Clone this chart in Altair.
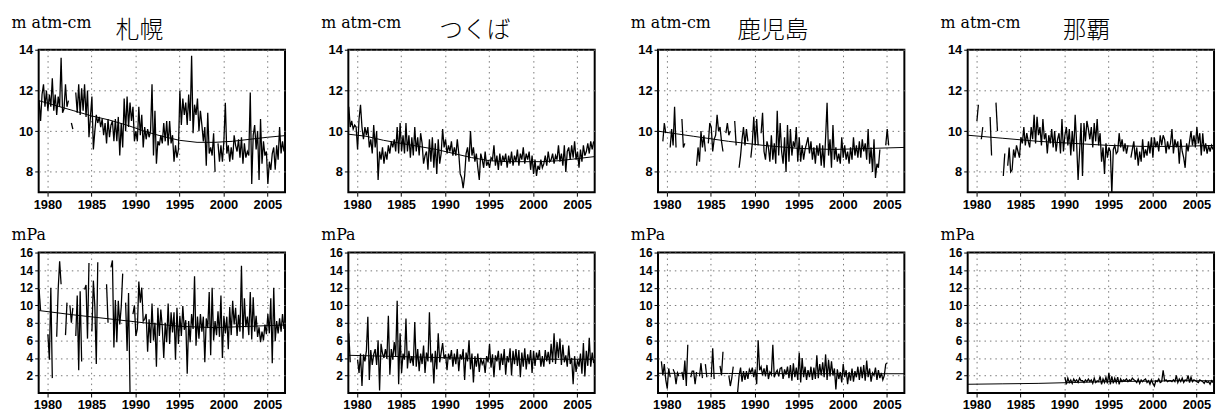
import altair as alt
import pandas as pd

# ---------------- data (2-monthly readings, 1979-2006) ----------------
START = 1979.05
STEP = 1 / 6
N = None

stations = ["札幌", "つくば", "鹿児島", "那覇"]
title_dx = [106, 120, 108, 124]

sapporo_col = [
    11.5, 10.5, 11.8, 12.3, 11.2, 12.0,
    11.0, 11.8, 11.2, 12.6, 11.0, 11.8,
    10.8, 11.7, 11.2, 13.6, 10.9, 11.1,
    12.3, 11.2, 11.5, N, 10.4, 10.1,
    N, 11.9, 10.9, 12.3, 10.8, 12.1,
    11.0, 12.3, 10.7, 12.0, 9.7, 10.7,
    11.7, 9.1, 10.0, 10.8, 10.4, 10.7,
    10.2, 10.6, 9.8, 10.4, 9.4, 10.6,
    9.7, 10.3, 10.5, 9.5, 10.6, 9.5,
    10.7, 8.8, 10.4, 9.2, 11.6, 10.0,
    11.7, 10.2, 11.4, 10.5, 11.2, 9.5,
    10.0, 9.5, 11.2, 9.8, 10.8, 9.2,
    10.2, 9.6, 10.1, 9.7, 10.0, 12.3,
    8.8, 11.0, 8.4, 9.5, 9.3, 9.8,
    9.4, 10.4, 9.5, 10.5, 9.3, 10.5,
    9.4, 9.8, 8.5, 9.3, 8.7, 9.1,
    12.0, 10.3, 11.6, 10.8, 11.4, 10.3,
    11.8, 10.5, 13.7, 9.9, 11.3, 10.8,
    11.6, 10.0, 11.0, 10.3, 9.5, 10.2,
    8.3, 10.9, 8.9, 9.2, 8.8, 9.9,
    8.0, N, 9.4, 8.5, 9.3, 8.5,
    9.5, 11.4, 8.9, 9.3, 8.5, 9.2,
    8.6, 9.8, 9.3, 9.0, 9.6, 8.7,
    9.7, 8.4, 9.4, 8.7, 9.0, 8.8,
    11.9, 7.4, 9.8, 10.3, 9.1, 10.0,
    7.6, 10.6, 8.4, 9.5, 8.8, 9.0,
    7.4, 8.5, 8.1, 8.9, 9.2, 8.1,
    9.3, 8.6, 10.2, 8.9, 9.5, 9.0,
]

tsukuba_col = [
    11.2, 10.2, 10.5, 10.1, 10.3, 10.2,
    9.1, 10.6, 11.3, 10.2, 9.6, 10.2,
    9.8, 10.2, 9.2, 9.6, 8.9, 10.3,
    9.2, 10.0, 7.6, 9.0, 8.6, 9.2,
    8.4, 9.0, 8.6, 9.3, 8.9, 9.5,
    9.2, 9.6, 9.0, 10.2, 8.9, 10.4,
    9.0, 9.8, 8.9, 10.4, 9.0, 9.8,
    8.7, 9.7, 8.8, 10.2, 9.0, 9.7,
    8.8, 9.9, 9.4, 8.4, 8.8, 9.0,
    8.1, 9.6, 8.5, 9.7, 8.2, 9.4,
    7.9, 9.6, 8.4, 8.9, 10.1, 9.2,
    9.6, 8.9, 9.3, 9.0, 9.5, 8.8,
    9.2, 8.8, 9.6, 8.9, 7.9, 7.7,
    7.2, 7.8, 8.9, 9.2, 8.5, 10.0,
    8.8, 9.2, 8.5, 8.9, 8.2, 7.6,
    8.9, 8.6, 8.2, 9.0, 8.3, 8.5,
    8.2, 8.7, 8.6, 9.3, 8.3, 8.8,
    8.1, 8.9, 8.3, 8.8, 8.5, 8.9,
    8.2, 8.8, 8.4, 9.0, 8.3, 8.8,
    8.5, 9.1, 8.3, 8.9, 8.6, 9.2,
    8.4, 8.9, 8.6, 9.0, 8.1, 8.8,
    7.9, 8.6, 7.8, 8.3, 8.1, 8.6,
    8.2, 8.4, 8.8, 8.3, 9.0, 8.5,
    8.6, 8.9, 8.4, 8.8, 8.6, 9.3,
    8.5, 8.9, 8.3, 9.3, 8.0, 9.0,
    9.2, 8.6, 9.3, 8.7, 9.5, 8.6,
    9.0, 8.2, 9.1, 8.5, 9.3, 8.8,
    9.0, 9.4, 8.9, 9.5, 9.1, 9.5,
]

kagoshima_col = [
    N, N, N, 9.5, 10.4, 9.9,
    N, N, 9.2, 10.1, 9.3, 11.2,
    9.2, N, N, N, 10.6, 9.2,
    9.4, N, N, N, N, N,
    N, N, 8.3, 9.2, 8.5, 10.0,
    9.2, 9.8, 9.0, N, 9.4, 10.4,
    10.2, 9.0, 9.6, 9.8, 10.8, 10.0,
    10.2, 9.5, 9.0, N, 9.9, 10.4,
    9.8, 10.0, N, N, 10.5, 9.3,
    N, 8.2, 8.8, 9.6, 10.2, 9.3,
    10.1, 9.5, N, 8.7, 9.4, 10.7,
    9.3, 10.6, 9.3, N, 9.9, 10.9,
    9.0, 8.6, 9.5, 9.2, 8.5, 9.8,
    8.6, 9.4, 8.4, 11.0, 8.8, 10.4,
    9.0, 8.4, 9.7, 8.0, 10.3, 8.5,
    10.1, 8.8, 9.5, 9.2, 10.2, 8.5,
    9.7, 8.5, 9.3, 8.6, 9.1, 9.4,
    9.7, 8.9, 9.5, 8.6, 9.2, 8.4,
    9.3, 8.8, 9.4, 8.3, 9.3, 8.2,
    9.7, 11.4, 8.8, 9.6, 8.2, 10.3,
    8.6, 9.2, 8.5, 8.9, 8.4, 9.7,
    8.7, 9.3, 8.6, 9.0, 8.4, 9.2,
    8.6, 9.7, 8.8, 9.3, 8.7, 9.5,
    8.7, 9.6, 9.0, 9.4, 8.6, 10.1,
    8.4, 9.2, 8.0, 9.6, 7.7, 8.4,
    8.2, 9.1, N, N, N, 9.3,
    10.1, 9.3, N, N, N, N,
    N, N, N, N, N, N,
]

naha_col = [
    N, N, N, N, N, N,
    10.5, 11.3, N, 9.6, 10.2, N,
    N, 9.7, N, 10.7, 8.8, N,
    N, 11.4, 10.0, N, N, N,
    7.8, 8.9, N, 8.3, 9.2, 8.0,
    8.1, 9.1, 8.7, 9.3, 9.0, 8.7,
    9.7, 9.4, 10.2, 9.3, 9.9, 9.5,
    9.2, 10.2, 9.6, 10.8, 9.4, 10.7,
    9.8, 10.2, 9.3, 10.6, 9.6, 9.9,
    8.9, 9.8, 9.4, 10.1, 9.2, 10.0,
    9.0, 9.6, 9.9, 8.9, 10.6, 9.0,
    9.8, 10.2, 9.3, 10.1, 8.8, 10.0,
    9.0, 10.8, 9.4, 7.6, 9.0, 10.4,
    7.8, 10.4, 9.5, 10.5, 10.1, 9.6,
    10.2, 9.2, 10.4, 9.5, 10.6, 9.3,
    9.9, 8.5, 9.2, 7.9, 9.4, 8.7,
    9.2, 9.0, 6.9, 9.1, 9.3, 8.9,
    9.0, 9.9, 9.2, 9.6, 9.0, 9.4,
    8.9, 9.3, N, 8.7, 9.1, 9.5,
    8.6, 9.2, 8.3, 9.0, 8.5, 9.6,
    8.7, 9.1, 8.8, 9.5, 8.9, 9.7,
    8.7, 9.7, 9.2, 9.5, 9.0, 9.8,
    9.3, 9.8, 9.6, 8.9, 9.5, 9.1,
    9.4, 10.1, 8.9, 9.6, 9.2, 9.5,
    8.4, 9.6, 9.0, 8.7, 8.2, 9.4,
    9.0, 9.5, 10.0, 9.3, 9.8, 9.2,
    10.2, 9.4, 9.9, 8.8, 9.9, 9.0,
    9.4, 8.9, 9.3, 9.0, 9.3, 9.1,
]

sapporo_mpa = [
    11.8, 9.4, N, N, N, N,
    6.7, 3.8, 12.0, 1.7, N, N,
    6.4, 11.8, 15.0, 12.4, N, N,
    6.6, 10.3, N, 10.0, 8.0, 9.7,
    N, 6.5, 11.1, 2.6, 11.6, 3.6,
    N, 11.8, 12.3, 6.2, 14.8, N,
    7.0, 12.8, 9.9, 3.3, 14.9, N,
    N, N, N, N, 12.4, 8.0,
    N, 14.3, 15.1, 5.2, 10.6, 5.8,
    10.5, 7.8, 9.8, 13.6, N, 10.3,
    4.8, 11.4, 0.1, N, 9.0, 10.0,
    6.5, 7.3, 12.7, 10.3, 12.0, 8.2,
    8.4, 9.0, 4.7, 8.4, 5.7, 10.2,
    6.0, 8.0, 3.0, 9.7, 6.5, 9.5,
    7.5, 4.0, 8.0, 5.8, 10.2, 5.6,
    9.2, 6.9, 9.2, 3.8, 9.7, 5.6,
    8.8, 6.5, 9.9, 7.2, 8.3, 2.2,
    8.2, 5.8, 9.0, 7.3, 13.3, 5.4,
    8.7, 6.2, 9.0, 7.0, 8.7, 3.5,
    8.5, 7.4, 11.5, 4.3, 12.0, 6.0,
    8.2, 6.6, 9.3, 6.4, 11.1, 4.0,
    8.8, 6.8, 8.7, 5.0, 9.8, 6.6,
    10.5, 7.8, 9.7, 6.5, 8.9, 7.0,
    14.5, 6.2, 10.8, 7.5, 8.7, 6.6,
    11.5, 6.1, 10.9, 7.0, 8.8, 6.4,
    7.5, 5.8, 7.0, 6.0, 7.8, 6.7,
    9.0, 6.8, 10.8, 3.4, 12.0, 5.9,
    8.2, 6.8, 8.5, 7.0, 9.0, 7.3,
]

tsukuba_mpa = [
    6.8, 3.5, N, N, N, N,
    3.8, 2.3, 4.5, 0.8, 4.4, 3.6,
    4.8, 8.7, 1.5, 4.9, 3.2, 4.4,
    5.0, 3.2, 6.0, 0.3, 5.6, 4.5,
    4.0, 5.0, 3.9, 8.8, 2.1, 5.0,
    3.8, 5.8, 4.2, 10.5, 1.0, 6.8,
    2.3, 4.5, 3.8, 8.5, 2.8, 4.8,
    3.4, 4.2, 3.1, 8.1, 3.0, 5.0,
    2.5, 4.5, 3.3, 5.4, 2.3, 4.6,
    3.6, 9.2, 3.5, 4.5, 1.1, 4.8,
    2.7, 6.8, 3.5, 4.6, 5.7, 3.9,
    4.4, 2.6, 4.5, 3.8, 4.9, 3.0,
    4.5, 3.3, 5.0, 2.5, 4.4, 3.8,
    5.0, 1.5, 4.6, 3.6, 6.0, 2.7,
    4.5, 1.2, 4.2, 3.0, 4.5, 2.4,
    4.0, 3.3, 3.7, 2.3, 4.2, 3.5,
    5.6, 2.9, 4.4, 1.8, 4.3, 3.6,
    4.8, 2.6, 4.5, 3.2, 5.0, 2.1,
    4.2, 3.5, 5.1, 2.0, 4.8, 3.3,
    5.0, 3.1, 4.9, 1.8, 4.6, 3.0,
    5.1, 2.7, 4.4, 3.3, 4.9, 2.3,
    4.8, 3.1, 4.6, 3.8, 4.9, 3.0,
    4.2, 3.0, 4.9, 3.6, 4.7, 3.3,
    5.6, 3.5, 6.8, 3.3, 5.8, 4.0,
    6.2, 3.2, 5.5, 3.5, 4.3, 3.0,
    5.4, 3.3, 4.0, 1.0, 4.2, 2.4,
    3.8, 3.0, 4.5, 2.2, 5.7, 1.9,
    4.8, 3.1, 6.3, 3.0, 4.6, 3.4,
]

kagoshima_mpa = [
    N, N, 3.6, 2.0, 3.3, 1.5,
    0.5, 2.8, 1.8, N, 2.7, 2.3,
    1.0, 2.3, 1.9, N, 2.4, 1.5,
    3.7, 0.8, 5.5, N, 1.8, 2.5,
    2.5, 1.0, 2.4, N, 1.9, 3.4,
    1.7, N, 3.3, 1.8, N, N,
    1.8, 5.1, 1.6, N, 1.4, N,
    3.1, 2.0, 4.7, N, N, N,
    2.0, 0.8, 1.7, 3.0, N, N,
    0.1, 2.0, 2.9, 1.3, 2.5, 1.5,
    2.5, 1.6, 2.7, 2.3, 2.9, 1.8,
    2.7, 1.0, 6.0, 2.6, 3.0, 2.0,
    2.8, 1.9, 3.2, 1.6, 2.4, 2.1,
    5.5, 1.8, 2.3, 2.6, 1.9, 2.8,
    2.9, 1.6, 2.7, 2.1, 3.0, 1.7,
    3.2, 1.4, 3.4, 1.8, 2.9, 1.5,
    4.6, 1.2, 4.0, 1.8, 3.0, 1.5,
    2.6, 1.8, 3.0, 1.5, 2.9, 1.6,
    4.3, 1.7, 3.3, 2.0, 3.5, 1.8,
    4.4, 1.5, 3.8, 1.9, 3.6, 2.0,
    2.8, 0.4, 2.7, 1.6, 2.4, 1.2,
    3.3, 1.8, 2.6, 1.0, 2.4, 1.4,
    2.8, 1.3, 2.5, 1.8, 3.0, 1.5,
    3.0, 1.7, 3.2, 1.4, 3.7, 1.8,
    2.8, 1.3, 2.3, 2.0, 2.9, 1.5,
    2.6, 1.7, 2.3, 1.5, 2.0, 3.3,
    3.4, N, N, N, N, N,
    N, N, N, N, N, N,
]

naha_mpa = [N] * 66 + [
    1.8, 1.0, 1.7, 1.2, 1.5, 1.1,
    1.6, 1.3, 1.5, 1.2, 1.7, 1.4,
    1.4, 1.2, 1.5, 1.3, 1.6, 1.3,
    1.5, 1.1, 1.7, 1.2, 1.4, 1.3,
    1.9, 1.0, 1.6, 1.2, 1.8, 1.1,
    2.3, 1.0, 1.9, 1.1, 1.7, 1.2,
    1.8, 1.0, 1.6, 1.3, 1.5, 1.4,
    1.6, 1.3, 1.5, 1.4, 1.7, 1.5,
    1.4, 1.2, 1.6, 1.1, 1.5, 1.3,
    1.5, 1.6, 1.2, 1.4, 1.0, 1.5,
    1.1, 0.8, 1.4, 1.3, 1.6, 1.2,
    1.3, 2.6, 1.4, 1.5, 1.3, 1.4,
    1.4, 1.3, 1.5, 1.3, 2.0, 1.2,
    1.6, 1.3, 1.7, 1.2, 1.5, 1.4,
    2.0, 1.2, 1.8, 1.3, 1.5, 1.4,
    1.3, 1.2, 1.5, 1.4, 1.3, 1.1,
    1.4, 1.2, 1.3, 1.0, 1.4, 1.2,
]

# long-term trend curves
trend_years_a = [1979, 1981, 1983, 1985, 1987, 1989, 1991, 1993, 1995, 1997, 1999, 2001, 2003, 2005, 2007]
sapporo_col_trend = [11.5, 11.25, 11.0, 10.75, 10.55, 10.3, 10.0, 9.75, 9.55, 9.45, 9.45, 9.5, 9.6, 9.7, 9.78]
tsukuba_col_trend = [9.85, 9.75, 9.55, 9.4, 9.25, 9.1, 8.9, 8.7, 8.55, 8.5, 8.5, 8.5, 8.55, 8.65, 8.75]
trend_years_b = [1979, 1983, 1987, 1991, 1995, 1999, 2003, 2007]
kagoshima_col_trend = [10.0, 9.75, 9.5, 9.3, 9.15, 9.1, 9.15, 9.2]
naha_col_trend = [9.8, 9.65, 9.5, 9.4, 9.3, 9.25, 9.25, 9.3]
sapporo_mpa_trend = [9.4, 8.9, 8.45, 8.0, 7.6, 7.45, 7.6, 7.75]
tsukuba_mpa_trend = [4.3, 4.2, 4.1, 4.0, 3.9, 3.85, 3.85, 3.85]
kagoshima_mpa_trend = [2.25, 2.24, 2.23, 2.22, 2.21, 2.2, 2.2, 2.2]
naha_mpa_trend = [1.0, 1.05, 1.1, 1.2, 1.3, 1.35, 1.4, 1.4]

x_ticks = [1980, 1985, 1990, 1995, 2000, 2005]
col_ticks = [8, 10, 12, 14]
mpa_ticks = [2, 4, 6, 8, 10, 12, 14, 16]


def series_frame(values):
    rows, seg = [], 0
    for i, v in enumerate(values):
        if v is None:
            seg += 1
            continue
        rows.append({"year": START + i * STEP, "v": v, "seg": seg})
    return pd.DataFrame(rows)


def panel(values, tyears, tvals, domain, ticks, ytitle, title=None, dx=0, height=144):
    xs = alt.X("year:Q", scale=alt.Scale(domain=[1979, 2007], nice=False, zero=False),
               axis=alt.Axis(values=x_ticks, format="d", title=None, labelFlush=False,
                             labelOverlap=False))
    ys = alt.Y("v:Q", scale=alt.Scale(domain=domain, nice=False, zero=False),
               axis=alt.Axis(values=ticks, title=ytitle, titleAngle=0, titleAlign="left",
                             titleBaseline="alphabetic", titleX=-28,
                             titleY=-13 if ytitle == "mPa" else -22,
                             titleFont="DejaVu Serif", titleFontSize=16, titleFontWeight="normal",
                             titleColor="black", labelOverlap=False, labelFlush=False,
                             labelBound=False, labelSeparation=0,
                             labelFontSize=12 if ytitle == "mPa" else 13))
    data_line = alt.Chart(series_frame(values)).mark_line(color="black", strokeWidth=1.3, clip=True).encode(
        x=xs, y=ys, detail="seg:N")
    tr = pd.DataFrame({"year": tyears, "v": tvals})
    trend_line = alt.Chart(tr).mark_line(color="black", strokeWidth=1, clip=True).encode(
        x=xs, y=ys)
    props = dict(width=249, height=height)
    if title:
        props["title"] = alt.TitleParams(text=title, anchor="start", dx=dx, fontSize=24,
                                         font="Noto Sans CJK JP", fontWeight=300,
                                         color="black", offset=-28)
    return alt.layer(data_line, trend_line).properties(**props)


top = alt.hconcat(
    panel(sapporo_col, trend_years_a, sapporo_col_trend, [7, 14], col_ticks, "m atm-cm", stations[0], title_dx[0]),
    panel(tsukuba_col, trend_years_a, tsukuba_col_trend, [7, 14], col_ticks, "m atm-cm", stations[1], title_dx[1]),
    panel(kagoshima_col, trend_years_b, kagoshima_col_trend, [7, 14], col_ticks, "m atm-cm", stations[2], title_dx[2]),
    panel(naha_col, trend_years_b, naha_col_trend, [7, 14], col_ticks, "m atm-cm", stations[3], title_dx[3]),
    spacing=34,
)
bottom = alt.hconcat(
    panel(sapporo_mpa, trend_years_b, sapporo_mpa_trend, [0, 16], mpa_ticks, "mPa", height=142),
    panel(tsukuba_mpa, trend_years_b, tsukuba_mpa_trend, [0, 16], mpa_ticks, "mPa", height=142),
    panel(kagoshima_mpa, trend_years_b, kagoshima_mpa_trend, [0, 16], mpa_ticks, "mPa", height=142),
    panel(naha_mpa, trend_years_b, naha_mpa_trend, [0, 16], mpa_ticks, "mPa", height=142),
    spacing=34,
)

chart = alt.vconcat(top, bottom, spacing=14).properties(
    padding={"left": 2, "top": 4, "right": 2, "bottom": 0}, background="white"
).configure_view(
    stroke="black", strokeWidth=2
).configure_axis(
    labelFont="Liberation Sans", labelFontSize=13, labelFontWeight="bold", labelColor="black",
    tickColor="black", tickSize=4, labelPadding=2, domain=False, labelOverlap=False,
    grid=True, gridColor="#777777", gridDash=[1.5, 4], gridWidth=1,
)

chart.save("out.html", embed_options={"renderer": "svg", "actions": False})
